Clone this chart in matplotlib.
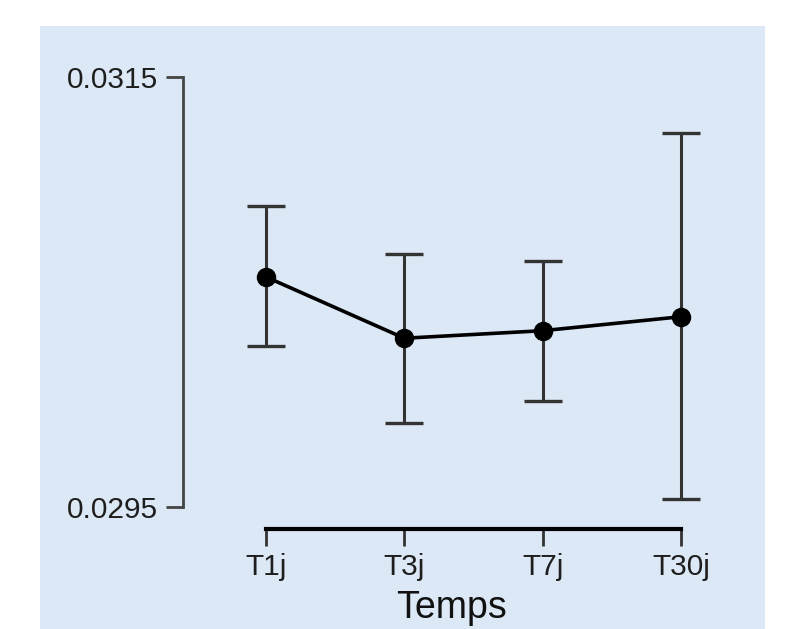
import matplotlib
matplotlib.use("Agg")
import matplotlib.pyplot as plt
from matplotlib.patches import Rectangle

categories = ["T1j", "T3j", "T7j", "T30j"]
means = [0.03057, 0.030285, 0.03032, 0.030385]
upper = [0.030898, 0.030677, 0.030644, 0.03124]
lower = [0.030247, 0.029893, 0.029991, 0.029537]
y_ticks = [0.0295, 0.0315]
y_tick_labels = ["0.0295", "0.0315"]
x_label = "Temps"

W, H = 798, 629
fig = plt.figure(figsize=(W / 100, H / 100), dpi=100)
fig.patch.set_facecolor("white")

bg = fig.add_axes([0, 0, 1, 1], zorder=-10)
bg.set_xlim(0, W)
bg.set_ylim(H, 0)
bg.axis("off")
bg.add_patch(Rectangle((40, 26), 765 - 40, 629 - 26, facecolor="#dce8f5",
                       edgecolor="none"))

# axes in pixel coordinates
L, R, T, B = 183, 720, 55, 529
ax = fig.add_axes([L / W, 1 - B / H, (R - L) / W, (B - T) / H], zorder=1)
ax.set_facecolor("none")

# x: 0 at px 266, 3 at px 681
xs = (681 - 266) / 3
ax.set_xlim(-(266 - L) / xs, (R - 266) / xs)
# y: 0.0315 at px 77, 0.0295 at px 507
ys = 0.002 / (507 - 77)
ax.set_ylim(0.0295 - (B - 507) * ys, 0.0315 + (77 - T) * ys)

x = list(range(len(categories)))
yerr = [[m - l for m, l in zip(means, lower)], [u - m for u, m in zip(upper, means)]]
ax.errorbar(x, means, yerr=yerr, fmt="none", ecolor="#333333", elinewidth=2.2,
            capsize=14, capthick=2.4, zorder=2)
ax.plot(x, means, color="black", lw=2.6, marker="o", markersize=13,
        markerfacecolor="black", markeredgecolor="black", zorder=3)

for s in ["top", "right"]:
    ax.spines[s].set_visible(False)
ax.spines["left"].set_bounds(0.0295, 0.0315)
ax.spines["left"].set_color("#444444")
ax.spines["left"].set_linewidth(2)
ax.spines["bottom"].set_bounds(0, 3)
ax.spines["bottom"].set_color("black")
ax.spines["bottom"].set_linewidth(3)

ax.set_yticks(y_ticks)
ax.set_yticklabels(y_tick_labels)
ax.set_xticks(x)
ax.set_xticklabels(categories)
ax.tick_params(axis="y", length=12, width=2, color="#444444", pad=6,
               labelsize=21.5, labelcolor="#1e1e1e")
ax.tick_params(axis="x", length=12, width=2, color="#333333", pad=5,
               labelsize=21.5, labelcolor="#1e1e1e")
for lab in ax.get_xticklabels() + ax.get_yticklabels():
    lab.set_fontfamily("Liberation Sans")
ax.set_xlabel(x_label, fontsize=27, fontfamily="Liberation Sans", color="#111111",
              labelpad=7)

fig.savefig("out.png", dpi=100, facecolor="white")
